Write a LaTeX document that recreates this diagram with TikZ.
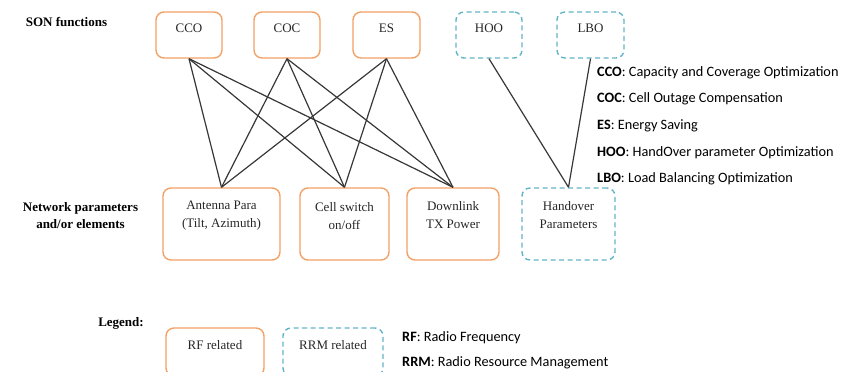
\documentclass[tikz,border=0pt]{standalone}
\usepackage{fontspec}
\setmainfont{Liberation Serif}
\newfontfamily\listfont{Carlito}
\definecolor{rforange}{RGB}{242,162,102}
\definecolor{rrmblue}{RGB}{100,180,200}
\definecolor{linkgray}{RGB}{55,55,55}
\begin{document}
\begin{tikzpicture}[x=1pt,y=-1pt,
  rfbox/.style={draw=rforange,line width=1.4pt,rounded corners=8pt,inner sep=0pt},
  rrmbox/.style={draw=rrmblue,line width=1.4pt,rounded corners=8pt,inner sep=0pt,dash pattern=on 5pt off 3.5pt},
  lbl/.style={font=\fontsize{13}{18}\selectfont,align=center,inner sep=0pt,text=black!85},
  head/.style={font=\fontsize{13}{17}\selectfont\bfseries,align=center,inner sep=0pt},
  lst/.style={font=\listfont\fontsize{14.3}{17}\selectfont,anchor=west,inner sep=0pt},
  link/.style={draw=linkgray,line width=1.2pt}]
\useasboundingbox (0,0) rectangle (846,372);
\clip (0,0) rectangle (846,372);
% headings
\node[head] (hson) at (66.5,22) {SON functions};
\node[head] (hnet) at (80.5,215.5) {Network parameters\\and/or elements};
\node[head] (hleg) at (121,323) {Legend:};
% SON function boxes
\node[rfbox,minimum width=66pt,minimum height=46pt] (cco) at (189,35) {};
\node[rfbox,minimum width=66pt,minimum height=46pt] (coc) at (287,35) {};
\node[rfbox,minimum width=67pt,minimum height=46pt] (es) at (386.5,35) {};
\node[rrmbox,minimum width=66pt,minimum height=46pt] (hoo) at (489,35) {};
\node[rrmbox,minimum width=67pt,minimum height=46pt] (lbo) at (590.5,35) {};
\node[lbl] (tcco) at (189,28) {CCO};
\node[lbl] (tcoc) at (287,28) {COC};
\node[lbl] (tes) at (386.5,28) {ES};
\node[lbl] (thoo) at (489,28) {HOO};
\node[lbl] (tlbo) at (590.5,28) {LBO};
% parameter boxes
\node[rfbox,minimum width=117pt,minimum height=72pt] (ant) at (221.5,224) {};
\node[rfbox,minimum width=89pt,minimum height=72pt] (cell) at (344.5,224) {};
\node[rfbox,minimum width=92pt,minimum height=72pt] (dl) at (453,224) {};
\node[rrmbox,minimum width=93pt,minimum height=72pt] (ho) at (568.5,224) {};
\node[lbl] (tant) at (221.5,216) {Antenna Para\\(Tilt, Azimuth)};
\node[lbl] (tcell) at (344.5,216) {Cell switch\\on/off};
\node[lbl] (tdl) at (453,215.5) {Downlink\\TX Power};
\node[lbl] (tho) at (568.5,215.5) {Handover\\Parameters};
% links
\foreach \s in {cco,coc,es}{
  \foreach \t in {ant,cell,dl}{
    \draw[link] (\s.south) -- (\t.north);
  }
}
\draw[link] (hoo.south) -- (ho.north);
\draw[link] (lbo.south) -- (ho.north);
% abbreviations
\node[lst] (a1) at (597,73) {\textbf{CCO}: Capacity and Coverage Optimization};
\node[lst] (a2) at (597,99) {\textbf{COC}: Cell Outage Compensation};
\node[lst] (a3) at (597,126) {\textbf{ES}: Energy Saving};
\node[lst] (a4) at (597,153) {\textbf{HOO}: HandOver parameter Optimization};
\node[lst] (a5) at (597,179) {\textbf{LBO}: Load Balancing Optimization};
% legend
\node[rfbox,minimum width=98pt,minimum height=48pt] (lrf) at (215,352) {};
\node[rrmbox,minimum width=100pt,minimum height=48pt] (lrrm) at (333,352) {};
\node[lbl] (tlrf) at (215,345) {RF related};
\node[lbl] (tlrrm) at (333,345) {RRM related};
\node[lst] (r1) at (402,338) {\textbf{RF}: Radio Frequency};
\node[lst] (r2) at (402,363) {\textbf{RRM}: Radio Resource Management};
\end{tikzpicture}
\end{document}
